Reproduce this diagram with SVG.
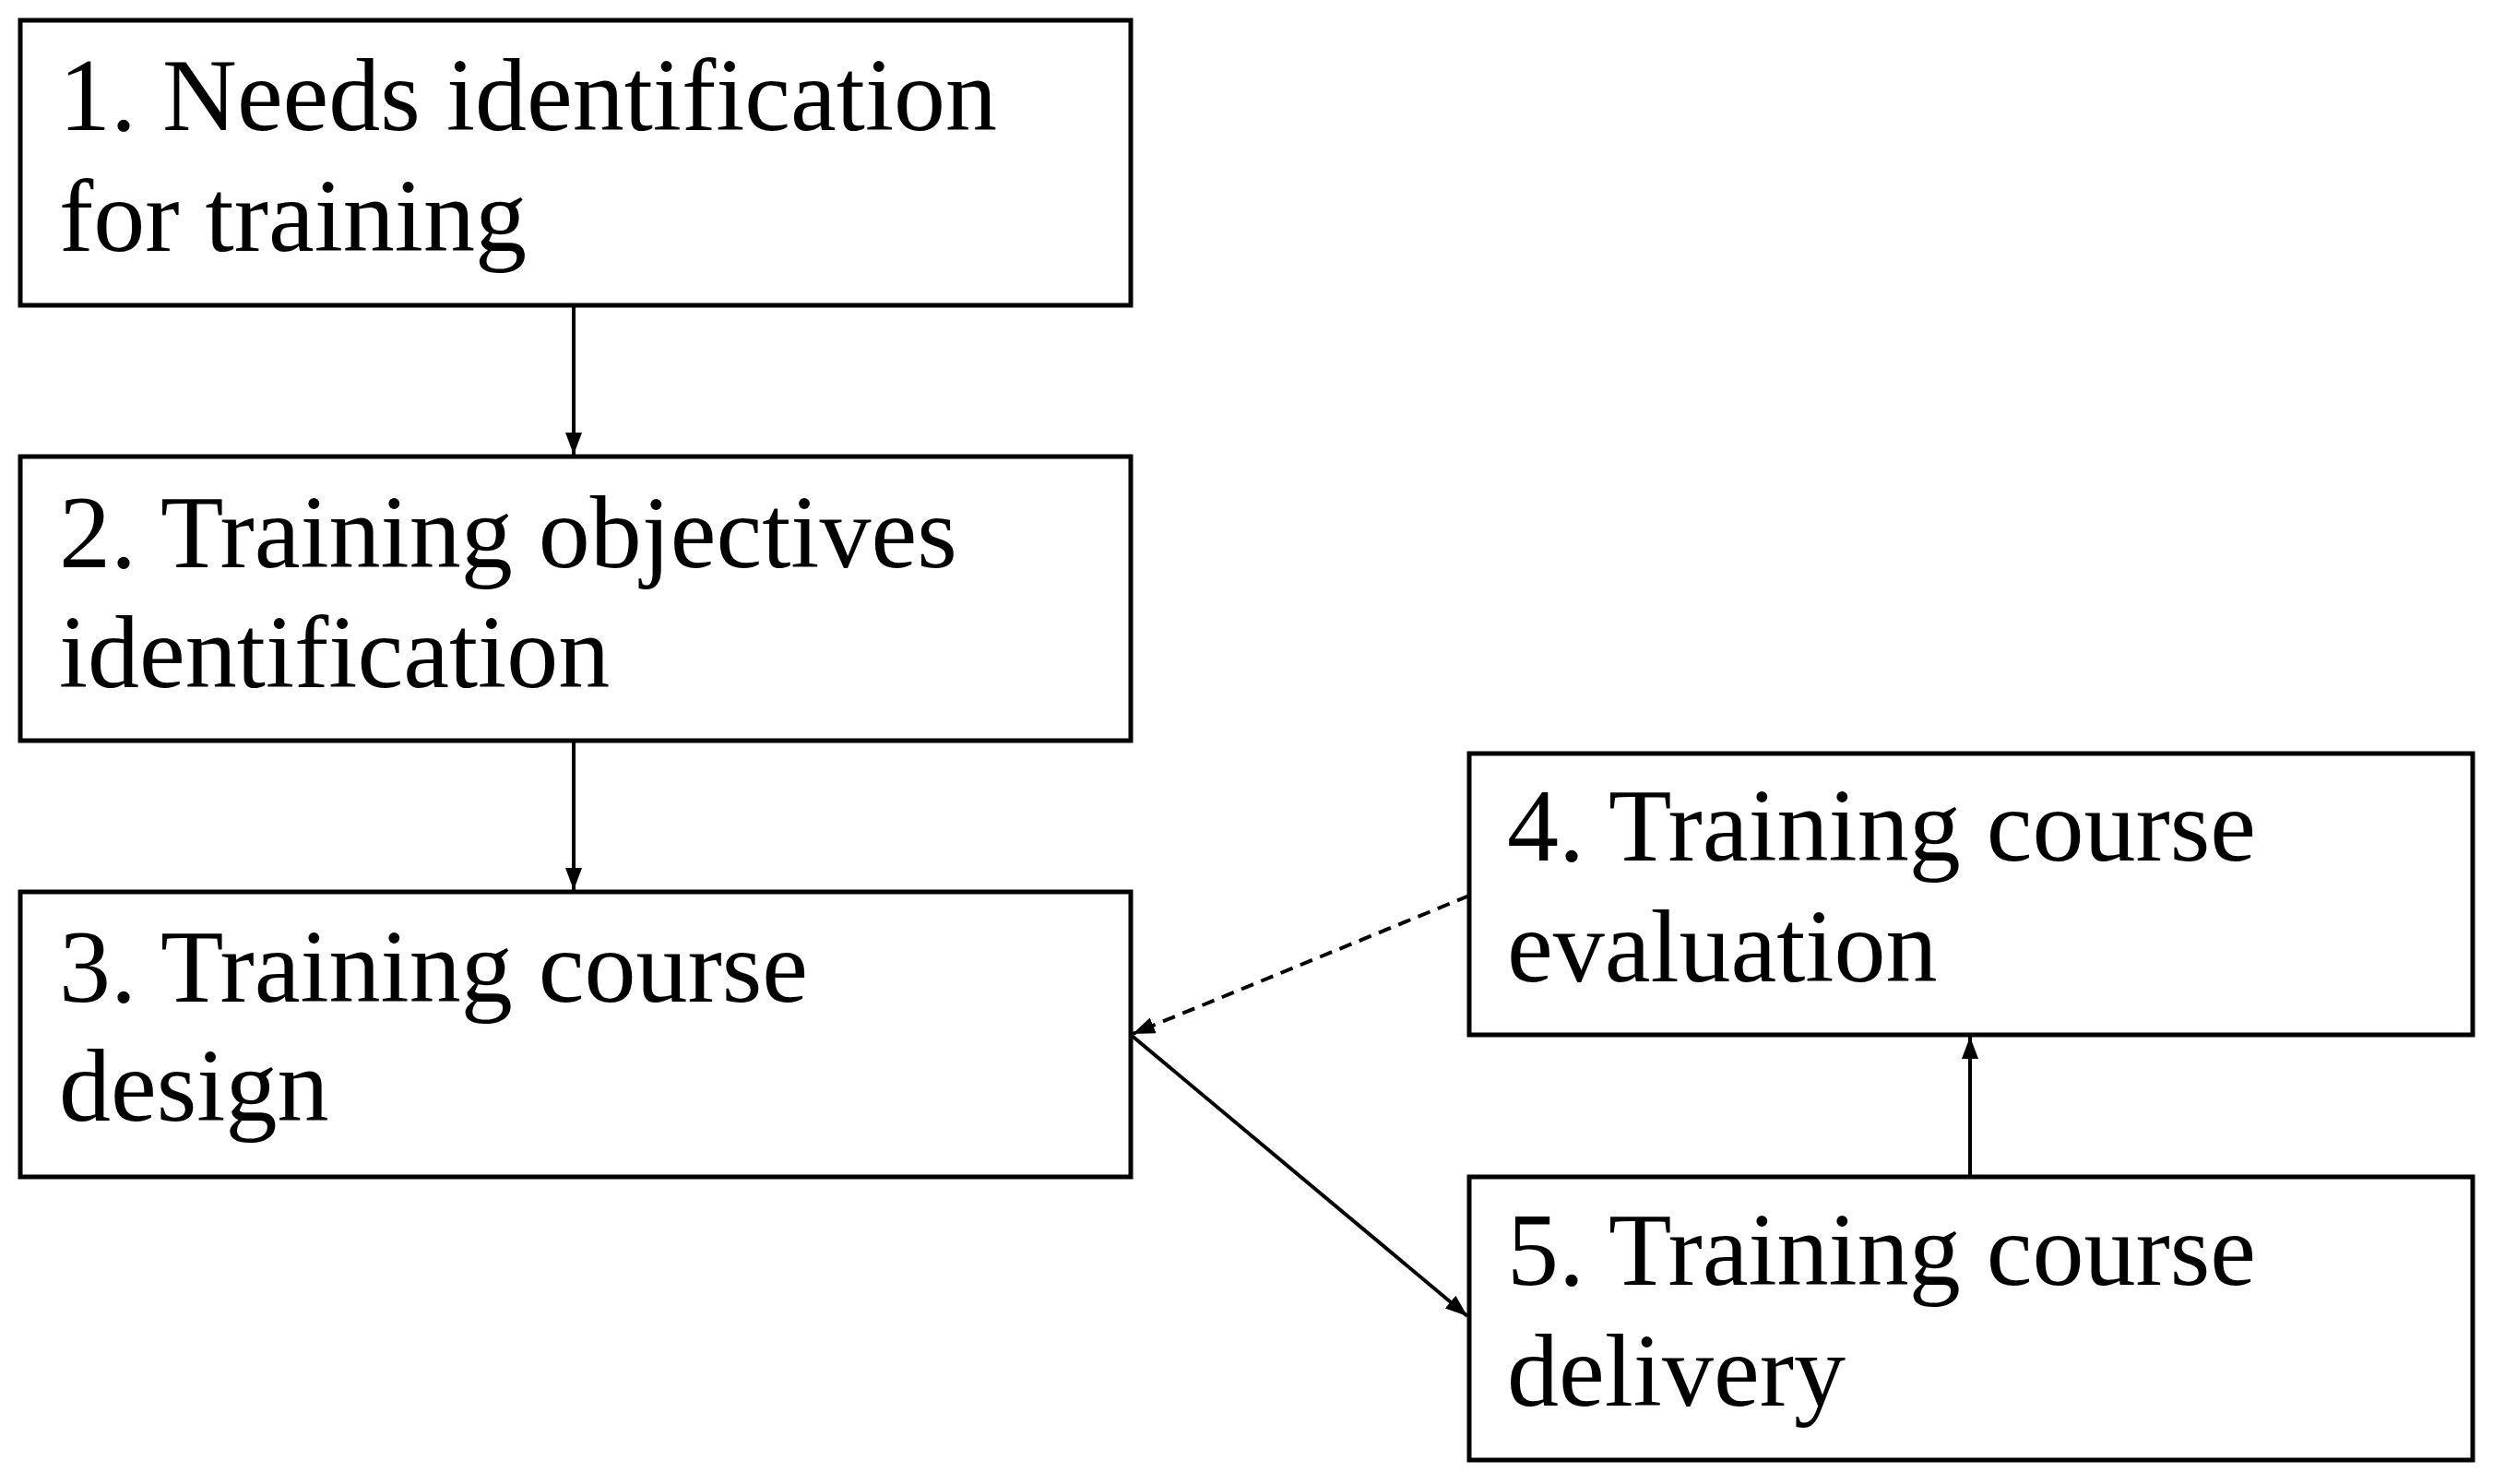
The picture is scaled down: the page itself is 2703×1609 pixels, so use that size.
<svg xmlns="http://www.w3.org/2000/svg" width="2703" height="1609" viewBox="0 0 2703 1609">
<style>
.b{fill:#fff;stroke:#000;stroke-width:5}
.t{font-family:"Liberation Serif","DejaVu Serif",serif;font-size:112px;fill:#000}
.c{stroke:#000;stroke-width:4;fill:none}
</style>
<defs><marker id="a" viewBox="0 0 10 10" refX="10" refY="5" markerWidth="7" markerHeight="7" markerUnits="userSpaceOnUse" orient="auto" style="overflow:visible"><path d="M0,0L10,5L0,10z" transform="scale(3.2) translate(-6.8,-3.4)"/></marker>
<marker id="m" viewBox="0 0 24 24" refX="24" refY="12" markerWidth="24" markerHeight="24" markerUnits="userSpaceOnUse" orient="auto"><path d="M0,3L24,12L0,21z"/></marker></defs>
<rect width="2703" height="1609" fill="#fff"/>
<g id="n1"><rect class="b" x="22" y="22" width="1204" height="309"/><text class="t" x="64" y="141">1. Needs identification</text><text class="t" x="64" y="272">for training</text></g>
<g id="n2"><rect class="b" x="22" y="495" width="1204" height="308"/><text class="t" x="64" y="615">2. Training objectives</text><text class="t" x="64" y="745">identification</text></g>
<g id="n3"><rect class="b" x="22" y="967" width="1204" height="309"/><text class="t" x="64" y="1086">3. Training course</text><text class="t" x="64" y="1215">design</text></g>
<g id="n4"><rect class="b" x="1593" y="817" width="1088" height="305"/><text class="t" x="1634" y="933">4. Training course</text><text class="t" x="1634" y="1064">evaluation</text></g>
<g id="n5"><rect class="b" x="1593" y="1276" width="1088" height="307"/><text class="t" x="1634" y="1393">5. Training course</text><text class="t" x="1634" y="1524">delivery</text></g>
<g id="connectors">
<line class="c" x1="622" y1="331" x2="622" y2="493" marker-end="url(#m)"/>
<line class="c" x1="622" y1="803" x2="622" y2="965" marker-end="url(#m)"/>
<line class="c" x1="1226" y1="1122" x2="1591" y2="1427" marker-end="url(#m)"/>
<line class="c" x1="1593" y1="971" x2="1228" y2="1121" stroke-dasharray="14,9" marker-end="url(#m)"/>
<line class="c" x1="2136" y1="1276" x2="2136" y2="1124" marker-end="url(#m)"/>
</g>
</svg>
